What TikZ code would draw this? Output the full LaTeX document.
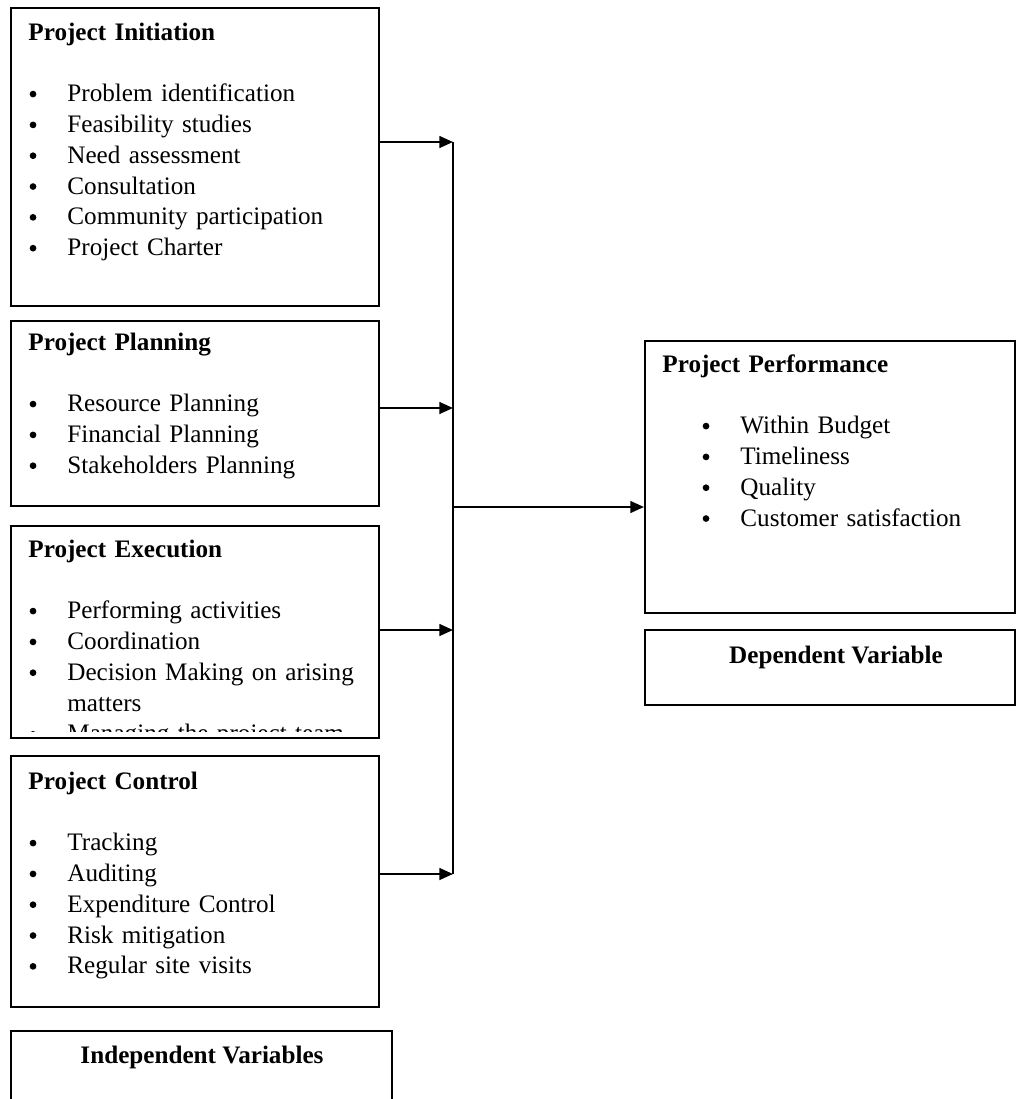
\documentclass[tikz,border=0pt]{standalone}
\usepackage{fontspec}
\setmainfont{Liberation Serif}
\usepackage{tikz}
\usetikzlibrary{arrows.meta, positioning, fit}
\tikzstyle{box} = [draw=black, line width=1pt, inner sep=0pt]
\tikzstyle{txt} = [anchor=base west, inner sep=0pt, text width=170pt]
\tikzstyle{arrow} = [line width=1pt, -{Triangle[length=6.5pt,width=5.6pt]}]
\newcommand{\bdot}{\hspace*{0.6pt}\raisebox{2pt}{\tikz\fill (0,0) circle (1.6pt);}}
\newcommand{\bitem}[2][0pt]{\hangindent=\dimexpr#1+18.6pt\relax\hangafter=1\noindent\hspace*{#1}\makebox[18.6pt][l]{\bdot}#2\par}

\begin{document}
\begin{tikzpicture}[x=0.477pt, y=-0.477pt, every node/.style={font=\fontsize{12}{14.7}\selectfont}]
    \clip (0,0) rectangle (1016,1099);

    % Project Initiation
    \node[box, fit={(11,8) (379,306)}] (init) {};
    \node[txt] (initT) at (28,40) {\textbf{Project Initiation}\par\mbox{}\par
        \bitem{Problem identification}
        \bitem{Feasibility studies}
        \bitem{Need assessment}
        \bitem{Consultation}
        \bitem{Community participation}
        \bitem{Project Charter}};

    % Project Planning
    \node[box, fit={(11,321) (379,506)}] (plan) {};
    \node[txt] (planT) at (28,350) {\textbf{Project Planning}\par\mbox{}\par
        \bitem{Resource Planning}
        \bitem{Financial Planning}
        \bitem{Stakeholders Planning}};

    % Project Execution (last line cut off by the box)
    \node[box, fit={(11,526) (379,738)}] (exec) {};
    \begin{scope}
        \clip (11,526) rectangle (379,731);
        \node[txt] (execT) at (28,557) {\textbf{Project Execution}\par\mbox{}\par
            \bitem{Performing activities}
            \bitem{Coordination}
            \bitem{Decision Making on arising\newline matters}
            \bitem{Managing the project team}};
    \end{scope}

    % Project Control
    \node[box, fit={(11,756) (379,1007)}] (ctrl) {};
    \node[txt] (ctrlT) at (28,789) {\textbf{Project Control}\par\mbox{}\par
        \bitem{Tracking}
        \bitem{Auditing}
        \bitem{Expenditure Control}
        \bitem{Risk mitigation}
        \bitem{Regular site visits}};

    % Independent Variables
    \node[box, fit={(11,1031) (392,1120)}] (indep) {};
    \node[anchor=base] (indepT) at (202,1063) {\textbf{Independent Variables}};

    % Project Performance
    \node[box, fit={(645,341) (1015,613)}] (perf) {};
    \node[txt] (perfT) at (662,372) {\textbf{Project Performance}\par\mbox{}\par
        \bitem[18.6pt]{Within Budget}
        \bitem[18.6pt]{Timeliness}
        \bitem[18.6pt]{Quality}
        \bitem[18.6pt]{Customer satisfaction}};

    % Dependent Variable
    \node[box, fit={(645,630) (1015,705)}] (dep) {};
    \node[anchor=base] (depT) at (836,663) {\textbf{Dependent Variable}};

    % Connectors
    \coordinate (b1) at (453,142);
    \coordinate (b2) at (453,408);
    \coordinate (b3) at (453,630);
    \coordinate (b4) at (453,874);
    \coordinate (bm) at (453,507);
    \draw[line width=1pt] (b1) -- (b4);
    \draw[arrow] (init.east |- b1) -- (b1);
    \draw[arrow] (plan.east |- b2) -- (b2);
    \draw[arrow] (exec.east |- b3) -- (b3);
    \draw[arrow] (ctrl.east |- b4) -- (b4);
    \draw[arrow] (bm) -- (bm -| perf.west);
\end{tikzpicture}
\end{document}
